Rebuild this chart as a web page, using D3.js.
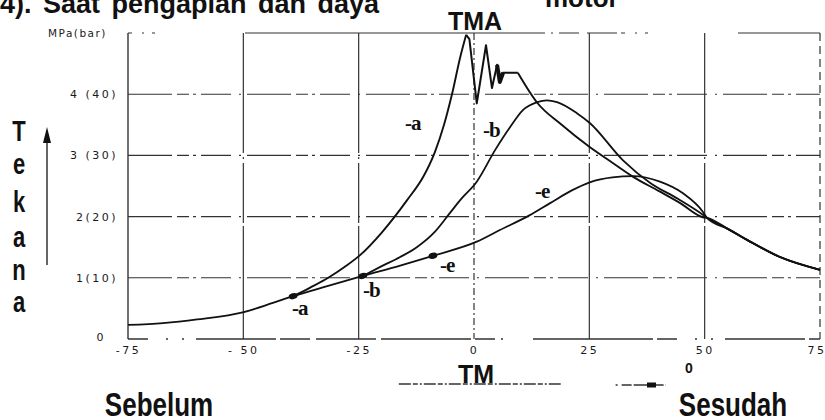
<!DOCTYPE html>
<html>
<head>
<meta charset="utf-8">
<script src="https://cdn.jsdelivr.net/npm/d3@7"></script>
<style>
  body { margin: 0; background: #fff; }
  svg { display: block; }
  .tick text { font-family: "DejaVu Sans", sans-serif; font-size: 11px; letter-spacing: 2.5px; fill: #1a1a1a; }
  .big { font-family: "Liberation Sans", Arial, sans-serif; font-weight: bold; fill: #111; }
  .lbl { font-family: "Liberation Serif", "Times New Roman", serif; font-weight: bold; font-size: 21px; fill: #111; }
</style>
</head>
<body>
<div class="chart"></div>
<script>
const w = 825;
const h = 420;

// tick values and labels
const xTicks = [-75, -50, -25, 0, 25, 50, 75];
const xTickLabels = ["-75", "- 50", "-25", "0", "25", "50", "75"];
const yTicks = [0, 1, 2, 3, 4];
const yTickLabels = ["0", "1(10)", "2(20)", "3 (30)", "4 (40)"];

// crank angle (deg), pressure (MPa)
const compression = [[-75, 0.23], [-67.4, 0.26], [-60, 0.32], [-49.9, 0.44], [-43.6, 0.59], [-39.2, 0.70],
  [-32, 0.86], [-24.1, 1.03], [-16, 1.2], [-8.9, 1.36]];
const curveARise = [[-39.2, 0.70], [-35.5, 0.84], [-31.6, 1.0], [-28, 1.18], [-24.7, 1.37], [-20, 1.74],
  [-14.5, 2.27], [-11, 2.65], [-8.5, 3.05], [-6.5, 3.5], [-4.8, 3.99], [-3.0, 4.6], [-1.7, 4.97]];
const curveAKnock = [[-1.7, 4.97], [-1.0, 4.9], [0.6, 3.85], [2.6, 4.8], [3.9, 4.1], [5.0, 4.48],
  [5.6, 4.2], [6.3, 4.35], [9.5, 4.35]];
const curveAFall = [[9.5, 4.35], [13.7, 3.86], [19, 3.5], [25, 3.14], [30, 2.88], [34.5, 2.65],
  [40, 2.42], [44.7, 2.22], [49.6, 1.99]];
const curveB = [[-24.1, 1.03], [-20, 1.19], [-16, 1.34], [-12.4, 1.5], [-8.5, 1.75], [-5.2, 2.06],
  [-3.0, 2.27], [0.6, 2.57], [4.6, 3.09], [7.8, 3.46], [10.6, 3.74], [13.7, 3.87], [15.8, 3.9], [18, 3.87],
  [22.3, 3.69], [25.1, 3.53], [32.3, 2.92], [38.2, 2.55], [44.2, 2.29], [49.6, 2.03]];
const curveE = [[-8.9, 1.36], [0.6, 1.59], [5.6, 1.78], [12, 2.02], [16.5, 2.22], [21, 2.42],
  [25.1, 2.56], [30, 2.64], [34.5, 2.66], [40.3, 2.57], [45.3, 2.38], [49.6, 2.08]];
const tail = [[50.5, 1.98], [55, 1.8], [59.2, 1.62], [66.3, 1.34], [75, 1.13]];

// ignition points a, b, e
const ignition = [[-39.2, 0.70], [-24.1, 1.03], [-8.9, 1.36]];

const svg = d3.select(".chart").append("svg")
  .attr("width", w)
  .attr("height", h);

const x = d3.scaleLinear().domain([-75, 75]).range([128, 820]);
const y = d3.scaleLinear().domain([0, 5]).range([339, 33]);

const line = d3.line()
  .x(d => x(d[0]))
  .y(d => y(d[1]))
  .curve(d3.curveMonotoneX);
const lineSharp = d3.line()
  .x(d => x(d[0]))
  .y(d => y(d[1]));

// grid (the scan has broken dash-dot lines)
const grid = svg.append("g").attr("stroke", "#333").attr("fill", "none");

yTicks.concat([5]).forEach(v => {
  if (v === 0) return;
  grid.append("line")
    .attr("x1", x(-75)).attr("x2", x(75))
    .attr("y1", y(v)).attr("y2", y(v))
    .attr("stroke-width", 1.1)
    .attr("stroke-dasharray", v === 5 ? "4,10,2,8,3,90,300,6,2,6,20,8,30,4" : "44,5,12,4,3,5,30,8,2,6");
});
grid.append("line")
  .attr("x1", x(-75)).attr("x2", x(75))
  .attr("y1", y(0)).attr("y2", y(0))
  .attr("stroke-width", 1.3)
  .attr("stroke-dasharray", "20,18,2,14,2,12,80,4,30,6,60,5,90,4,20,6,2,30,120,4");

xTicks.forEach(v => {
  const dash = v === 0 ? "7,3,2,3" : (v === 75 ? "8,5" : (v === -75 ? null : "120,4,2,4,60,3"));
  grid.append("line")
    .attr("x1", x(v)).attr("x2", x(v))
    .attr("y1", y(5)).attr("y2", y(0))
    .attr("stroke-width", v === -75 ? 1.4 : 1.2)
    .attr("stroke-dasharray", dash);
});

// axes (labels only)
svg.append("g")
  .attr("transform", `translate(0,${y(0) + 4})`)
  .call(d3.axisBottom(x).tickValues(xTicks).tickSize(0).tickFormat((d, i) => xTickLabels[i]))
  .call(g => g.select(".domain").remove())
  .call(g => g.selectAll(".tick").filter(d => d === 75).select("text").attr("text-anchor", "end").attr("dx", 6));

svg.append("g")
  .attr("transform", `translate(${x(-75) - 7},0)`)
  .call(d3.axisLeft(y).tickValues(yTicks).tickSize(0).tickFormat((d, i) => yTickLabels[i]))
  .call(g => g.select(".domain").remove())
  .call(g => g.selectAll(".tick").filter(d => d === 0).select("text").attr("dx", -12).attr("dy", "0.1em"));

svg.append("text")
  .attr("x", 48).attr("y", y(5) + 4)
  .style("font-family", "DejaVu Sans, sans-serif")
  .style("font-size", "10.5px")
  .style("letter-spacing", "1.5px")
  .attr("fill", "#1a1a1a")
  .text("MPa(bar)");

// curves
const curves = svg.append("g").attr("fill", "none").attr("stroke", "#111").attr("stroke-linejoin", "round");
curves.append("path").datum(compression.concat(curveE.slice(1), tail)).attr("d", line).attr("stroke-width", 1.8);
curves.append("path").datum(curveARise).attr("d", line).attr("stroke-width", 1.9);
curves.append("path").datum(curveAKnock).attr("d", lineSharp).attr("stroke-width", 2);
curves.append("path").datum(curveAFall.concat(tail)).attr("d", line).attr("stroke-width", 1.9);
curves.append("path").datum(curveB.concat(tail)).attr("d", line).attr("stroke-width", 1.8);
// heavier blob at the end of the knock
curves.append("path").datum(curveAKnock.slice(5, 8)).attr("d", lineSharp).attr("stroke-width", 4);

svg.append("g").selectAll("ellipse")
  .data(ignition)
  .enter()
  .append("ellipse")
  .attr("cx", d => x(d[0]))
  .attr("cy", d => y(d[1]))
  .attr("rx", 4.5).attr("ry", 3)
  .attr("transform", d => `rotate(-15,${x(d[0])},${y(d[1])})`)
  .attr("fill", "#111");

// curve labels
const curveLabels = [
  { t: "-a", px: 405, py: 130 }, { t: "-b", px: 483, py: 137 }, { t: "-e", px: 535, py: 198 },
  { t: "-a", px: 292, py: 315 }, { t: "-b", px: 363, py: 297 }, { t: "-e", px: 440, py: 272 }
];
svg.append("g").selectAll("text")
  .data(curveLabels)
  .enter()
  .append("text")
  .attr("class", "lbl")
  .attr("x", d => d.px).attr("y", d => d.py)
  .attr("letter-spacing", "-1px")
  .text(d => d.t);

// titles and annotations
svg.append("text").attr("class", "big").attr("x", 0).attr("y", 13)
  .style("font-size", "27px").style("word-spacing", "4px")
  .text("4). Saat pengapian dan daya");
svg.append("text").attr("class", "big").attr("x", 545).attr("y", 7)
  .style("font-size", "26px").text("motor");
svg.append("text").attr("class", "big").attr("x", 475).attr("y", 30)
  .attr("text-anchor", "middle").style("font-size", "25px").text("TMA");

const vert = ["T", "e", "k", "a", "n", "a"];
const vertBase = [141, 174, 212, 247, 280, 312];
vert.forEach((c, i) => {
  svg.append("text").attr("class", "big")
    .attr("text-anchor", "middle")
    .attr("transform", `translate(19,${vertBase[i]}) scale(1,1.3)`)
    .style("font-size", "22px")
    .text(c);
});

// pressure arrow
svg.append("line").attr("x1", 47).attr("x2", 47).attr("y1", 265).attr("y2", 140)
  .attr("stroke", "#333").attr("stroke-width", 1.5);
svg.append("path").attr("d", "M47,127 L43,143 L51,143 Z").attr("fill", "#111");

svg.append("text").attr("class", "big").attr("x", 476).attr("y", 383)
  .attr("text-anchor", "middle").style("font-size", "25px").text("TM");
svg.append("text").attr("class", "big").attr("x", 689).attr("y", 373)
  .attr("text-anchor", "middle").style("font-size", "14px").text("0");

svg.append("line").attr("x1", x(-16.3)).attr("x2", x(18.8)).attr("y1", 384).attr("y2", 384)
  .attr("stroke", "#333").attr("stroke-width", 1.3).attr("stroke-dasharray", "12,2,5,2,2,2");
svg.append("line").attr("x1", x(30.7)).attr("x2", x(41.6)).attr("y1", 385).attr("y2", 385)
  .attr("stroke", "#333").attr("stroke-width", 1.3).attr("stroke-dasharray", "2,4,10,2,30");
svg.append("rect").attr("x", x(37.5)).attr("y", 382.5).attr("width", 9).attr("height", 5).attr("fill", "#111");

svg.append("text").attr("class", "big")
  .attr("transform", "translate(159,416) scale(1,1.3)")
  .attr("text-anchor", "middle").style("font-size", "26px").text("Sebelum");
svg.append("text").attr("class", "big")
  .attr("transform", "translate(733,416) scale(1,1.3)")
  .attr("text-anchor", "middle").style("font-size", "26px").text("Sesudah");
</script>
</body>
</html>
